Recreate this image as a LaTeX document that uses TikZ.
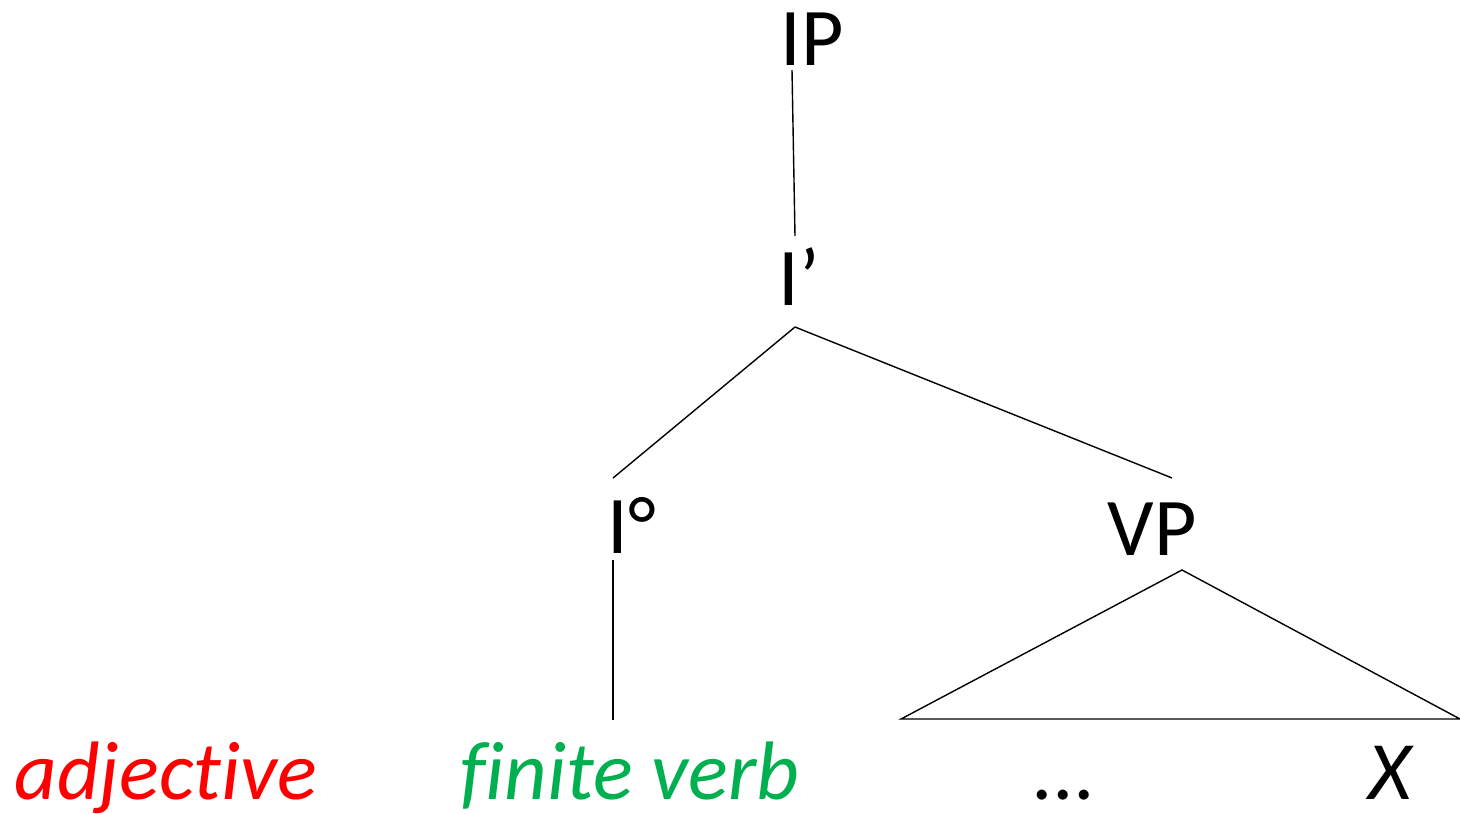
\documentclass[tikz,border=0pt]{standalone}
\usepackage{fontspec}
\setmainfont[Ligatures={NoCommon,NoRequired,NoContextual}]{Carlito}
\definecolor{adjred}{RGB}{255,0,0}
\definecolor{verbgreen}{RGB}{0,176,80}
\begin{document}
\begin{tikzpicture}[x=1pt,y=-1pt,
  lab/.style={inner sep=0pt,anchor=base,font=\fontsize{82}{90}\selectfont},
  word/.style={inner sep=0pt,anchor=base,font=\fontsize{83}{90}\selectfont\itshape},
  edge/.style={draw=black,line width=1.4pt}]
\useasboundingbox (0,0) rectangle (1460,814);
\node[lab] (ip) at (812,65) {IP};
\node[lab] (ibar) at (799,305) {I’};
\node[lab] (i0) at (632,553) {I°};
\node[lab] (vp) at (1152,555) {VP};
\node[word,text=adjred] (adj) at (166,799) {adjective};
\node[word,text=verbgreen] (fv) at (630,799) {finite verb};
\node[word] (dots) at (1065,799) {...};
\node[word] (x) at (1390,799) {X};
\coordinate (ipb) at (792,70);
\coordinate (ibart) at (795,236);
\coordinate (ibarb) at (795,327);
\coordinate (i0t) at (613,478);
\coordinate (vpt) at (1172,478);
\coordinate (i0b) at (613,560);
\coordinate (fvt) at (613,720);
\coordinate (apex) at (1182,570);
\coordinate (bl) at (901,719);
\coordinate (br) at (1460,719);
\draw[edge] (ipb) -- (ibart);
\draw[edge] (ibarb) -- (i0t);
\draw[edge] (ibarb) -- (vpt);
\draw[edge] (i0b) -- (fvt);
\draw[edge] (bl) -- (apex) -- (br) -- cycle;
\end{tikzpicture}
\end{document}
